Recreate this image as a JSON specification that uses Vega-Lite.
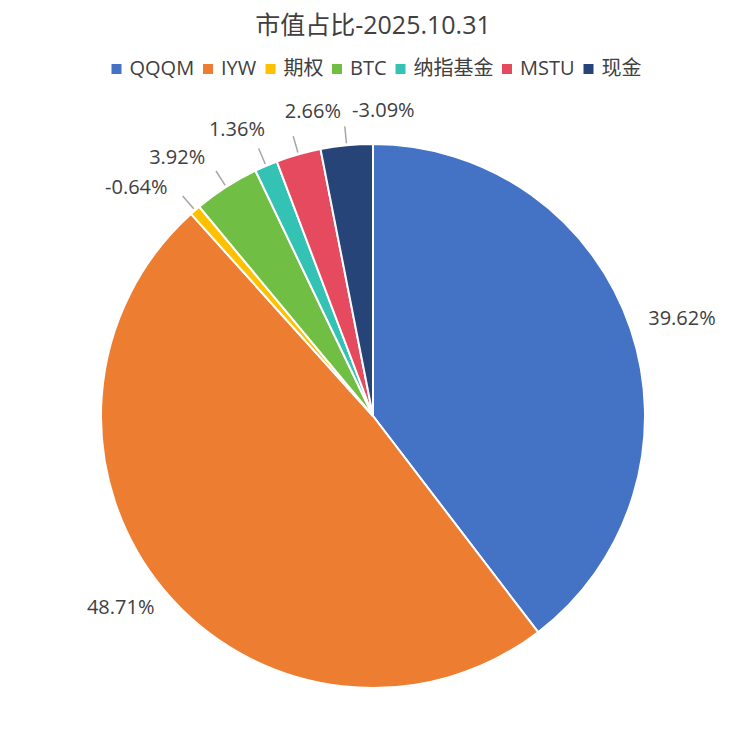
{
  "$schema": "https://vega.github.io/schema/vega-lite/v6.json",
  "width": 744,
  "height": 650,
  "autosize": "none",
  "padding": {"left": 1, "top": 91, "right": 0, "bottom": 0},
  "background": "white",
  "title": {
    "text": "市值占比-2025.10.31",
    "anchor": "middle",
    "fontSize": 25,
    "fontWeight": "normal",
    "color": "#404040",
    "font": "Open Sans, Noto Sans CJK SC",
    "baseline": "alphabetic",
    "offset": 0
  },
  "config": {
    "view": {"stroke": null},
    "font": "Open Sans, Noto Sans CJK SC"
  },
  "data": {
    "values": [
      {"name": "QQQM", "pct": 39.62},
      {"name": "IYW", "pct": 48.71},
      {"name": "期权", "pct": -0.64},
      {"name": "BTC", "pct": 3.92},
      {"name": "纳指基金", "pct": 1.36},
      {"name": "MSTU", "pct": 2.66},
      {"name": "现金", "pct": -3.09}
    ]
  },
  "transform": [
    {"calculate": "abs(datum.pct)", "as": "share"},
    {"calculate": "(datum.pct < 0 ? '-' : '') + format(abs(datum.pct), '.2f') + '%'", "as": "label"},
    {"stack": "share", "groupby": [], "as": ["t0", "t1"]},
    {"calculate": "(datum.t0 + datum.t1) / 2", "as": "mid"}
  ],
  "layer": [
    {
      "mark": {"type": "arc", "outerRadius": 272, "stroke": "white", "strokeWidth": 2},
      "encoding": {
        "theta": {"field": "t0", "type": "quantitative", "stack": null, "scale": {"domain": [0, 100]}},
        "theta2": {"field": "t1"},
        "color": {
          "field": "name",
          "type": "nominal",
          "scale": {
            "domain": ["QQQM", "IYW", "期权", "BTC", "纳指基金", "MSTU", "现金"],
            "range": ["#4472C4", "#ED7D31", "#FFC000", "#70BF44", "#33C2B4", "#E64A5E", "#264478"]
          },
          "legend": {
            "title": null,
            "orient": "none",
            "direction": "horizontal",
            "gridAlign": "none",
            "legendX": 105.5,
            "legendY": -32,
            "symbolType": "square",
            "symbolSize": 100,
            "symbolStrokeWidth": 0,
            "labelFontSize": 20,
            "labelColor": "#404040",
            "labelFont": "Open Sans, Noto Sans CJK SC",
            "labelOffset": 3,
            "columnPadding": 3.5,
            "padding": 0
          }
        }
      }
    },
    {
      "transform": [{"filter": "datum.share < 5"}],
      "mark": {"type": "arc", "innerRadius": 274, "outerRadius": 291, "filled": false, "stroke": "#A6A6A6", "strokeWidth": 1.5},
      "encoding": {
        "theta": {"field": "mid", "type": "quantitative", "stack": null},
        "theta2": {"field": "mid"}
      }
    },
    {
      "transform": [{"filter": "datum.name == 'QQQM'"}],
      "mark": {"type": "text", "radius": 285, "dx": 39, "dy": -6, "fontSize": 20, "color": "#404040", "align": "center", "baseline": "middle"},
      "encoding": {"theta": {"field": "mid", "type": "quantitative", "stack": null}, "text": {"field": "label"}}
    },
    {
      "transform": [{"filter": "datum.name == 'IYW'"}],
      "mark": {"type": "text", "radius": 285, "dx": -33, "dy": 10, "fontSize": 20, "color": "#404040", "align": "center", "baseline": "middle"},
      "encoding": {"theta": {"field": "mid", "type": "quantitative", "stack": null}, "text": {"field": "label"}}
    },
    {
      "transform": [{"filter": "datum.name == '期权'"}],
      "mark": {"type": "text", "radius": 285, "dx": -19, "dy": -12, "fontSize": 20, "color": "#404040", "align": "right", "baseline": "middle"},
      "encoding": {"theta": {"field": "mid", "type": "quantitative", "stack": null}, "text": {"field": "label"}}
    },
    {
      "transform": [{"filter": "datum.name == 'BTC'"}],
      "mark": {"type": "text", "radius": 285, "dx": -14, "dy": -18, "fontSize": 20, "color": "#404040", "align": "right", "baseline": "middle"},
      "encoding": {"theta": {"field": "mid", "type": "quantitative", "stack": null}, "text": {"field": "label"}}
    },
    {
      "transform": [{"filter": "datum.name == '纳指基金'"}],
      "mark": {"type": "text", "radius": 285, "dx": -24, "dy": -24, "fontSize": 20, "color": "#404040", "align": "center", "baseline": "middle"},
      "encoding": {"theta": {"field": "mid", "type": "quantitative", "stack": null}, "text": {"field": "label"}}
    },
    {
      "transform": [{"filter": "datum.name == 'MSTU'"}],
      "mark": {"type": "text", "radius": 285, "dx": 18, "dy": -30, "fontSize": 20, "color": "#404040", "align": "center", "baseline": "middle"},
      "encoding": {"theta": {"field": "mid", "type": "quantitative", "stack": null}, "text": {"field": "label"}}
    },
    {
      "transform": [{"filter": "datum.name == '现金'"}],
      "mark": {"type": "text", "radius": 285, "dx": 38, "dy": -21, "fontSize": 20, "color": "#404040", "align": "center", "baseline": "middle"},
      "encoding": {"theta": {"field": "mid", "type": "quantitative", "stack": null}, "text": {"field": "label"}}
    }
  ]
}
